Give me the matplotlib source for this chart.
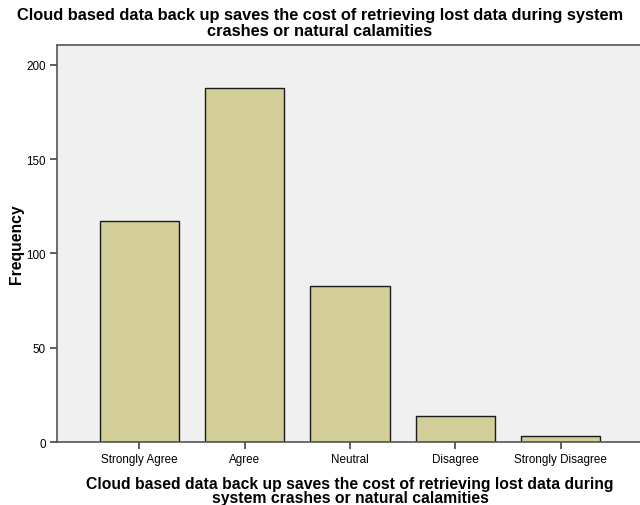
#!/usr/bin/env python3
"""SPSS-style frequency bar chart: cloud backup survey item."""

import matplotlib
matplotlib.use("Agg")
import matplotlib.pyplot as plt

categories = ["Strongly Agree", "Agree", "Neutral", "Disagree", "Strongly Disagree"]
frequency = [117, 188, 83, 14, 3]
y_ticks = [0, 50, 100, 150, 200]

TITLE = ("Cloud based data back up saves the cost of retrieving lost data during system\n"
         "crashes or natural calamities")
XLABEL = ("Cloud based data back up saves the cost of retrieving lost data during\n"
          "system crashes or natural calamities")

plt.rcParams["font.family"] = ["Liberation Sans", "DejaVu Sans"]

W, H = 640, 506
fig = plt.figure(figsize=(W / 100, H / 100), dpi=100)
left, right, top, bottom = 57, 643, 46, 443
ax = fig.add_axes([left / W, 1 - bottom / H, (right - left) / W, (bottom - top) / H])
ax.set_facecolor("#F0F0F0")

x = range(len(categories))
ax.bar(x, frequency, width=0.75, color="#D3CE97", edgecolor="#1A1A1A", linewidth=1.0)

ax.set_xlim(-0.78, len(categories) - 0.22)
ax.set_ylim(0, 210.6)
ax.set_xticks(list(x))
ax.set_xticklabels(categories, fontsize=8.4)
ax.set_yticks(y_ticks)
ax.set_yticklabels([str(v) for v in y_ticks], fontsize=8.4)
ax.tick_params(axis="both", direction="out", length=5, width=1.2, color="#444444", pad=3)

for side in ["left", "bottom", "top", "right"]:
    ax.spines[side].set_color("#555555")
    ax.spines[side].set_linewidth(1.2)

ax.set_ylabel("Frequency", fontsize=11.3, fontweight="bold", labelpad=2)
ax.set_xlabel(XLABEL, fontsize=11.3, fontweight="bold", labelpad=8, linespacing=0.88)
fig.text(0.5, 1 - 8 / H, TITLE, ha="center", va="top", fontsize=11.8, fontweight="bold",
         linespacing=1.12)

fig.savefig("out.png", dpi=100, facecolor="white")
